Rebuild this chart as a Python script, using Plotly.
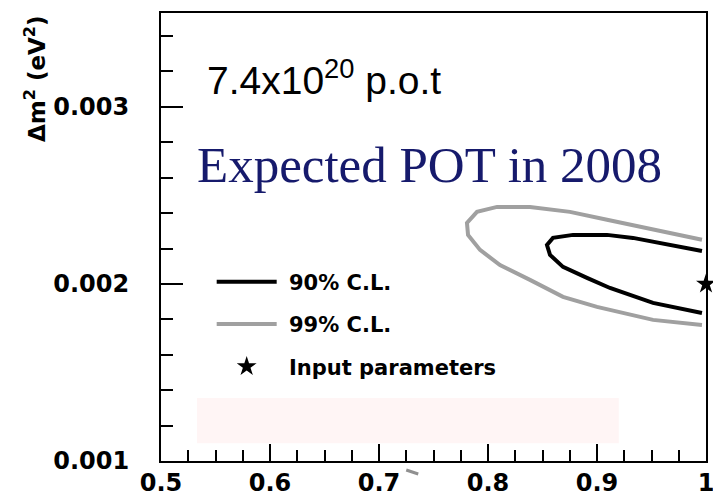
import plotly.graph_objects as go

# 99% C.L. contour (sin^2 2theta, dm^2)
cl99_x = [0.9963, 0.9514, 0.9092, 0.8752, 0.8385, 0.8083, 0.7899, 0.7807, 0.7817,
          0.7927, 0.8110, 0.8385, 0.8688, 0.9000, 0.9239, 0.9514, 0.9963]
cl99_y = [0.002249, 0.002305, 0.002362, 0.002407, 0.002435, 0.002435, 0.002407, 0.002345,
          0.002277, 0.002192, 0.002107, 0.002023, 0.001927, 0.001870, 0.001836, 0.001797, 0.001768]
# 90% C.L. contour
cl90_x = [0.9963, 0.9670, 0.9330, 0.9092, 0.8780, 0.8596, 0.8541, 0.8569, 0.8688,
          0.8908, 0.9119, 0.9303, 0.9514, 0.9963]
cl90_y = [0.002186, 0.002220, 0.002260, 0.002277, 0.002277, 0.002260, 0.002220, 0.002164,
          0.002096, 0.002034, 0.001977, 0.001938, 0.001893, 0.001836]
# input parameters
input_x = [1.0]
input_y = [0.002]

x_ticks = [0.5, 0.6, 0.7, 0.8, 0.9, 1.0]
x_ticklabels = ["0.5", "0.6", "0.7", "0.8", "0.9", "1"]
y_ticks = [0.001, 0.002, 0.003]
y_ticklabels = ["0.001", "0.002", "0.003"]

fig = go.Figure()
fig.add_trace(go.Scatter(x=cl90_x, y=cl90_y, mode="lines", name="\u00a090% C.L.",
                         line=dict(color="black", width=4), legendgroup="a"))
fig.add_trace(go.Scatter(x=cl99_x, y=cl99_y, mode="lines", name="\u00a099% C.L.",
                         line=dict(color="#a0a0a0", width=4), legendgroup="b"))
fig.add_trace(go.Scatter(x=input_x, y=input_y, mode="markers", name="\u00a0Input parameters",
                         marker=dict(symbol="star", size=15, color="black"),
                         cliponaxis=False, legendgroup="c"))

# faint pink box
fig.add_shape(type="rect", xref="x", yref="y", x0=0.533, x1=0.920, y0=0.0011, y1=0.001356,
              fillcolor="#fff5f5", line=dict(width=0), layer="below")
# small gray stroke near the 0.7 label
fig.add_shape(type="line", xref="paper", yref="paper", x0=0.450, x1=0.472, y0=-0.020, y1=-0.029,
              line=dict(color="#909090", width=3))

tickfont = dict(family="DejaVu Sans", size=24, color="black", weight="bold")
fig.update_xaxes(range=[0.5, 1.0], tickvals=x_ticks, ticktext=x_ticklabels,
                 ticks="inside", ticklen=17, tickwidth=2, tickcolor="black",
                 minor=dict(dtick=0.025, ticks="inside", ticklen=11, tickwidth=2, tickcolor="black"),
                 showline=True, linewidth=2, linecolor="black", mirror=True, automargin=False,
                 showgrid=False, zeroline=False, tickfont=tickfont, ticklabelstandoff=-1,
                 ticklabeloverflow="allow")
fig.update_yaxes(range=[0.001, 0.00353], tickvals=y_ticks, ticktext=y_ticklabels,
                 ticks="inside", ticklen=22, tickwidth=2, tickcolor="black",
                 minor=dict(dtick=0.0002, ticks="inside", ticklen=12, tickwidth=2, tickcolor="black"),
                 showline=True, linewidth=2, linecolor="black", mirror=True, automargin=False,
                 showgrid=False, zeroline=False, tickfont=tickfont, ticklabelstandoff=25,
                 ticklabeloverflow="allow")

fig.add_annotation(text="Δm<sup>2</sup> (eV<sup>2</sup>)", textangle=-90, xref="paper", yref="paper",
                   x=-0.232, y=1.0, xanchor="center", yanchor="top", showarrow=False,
                   font=dict(family="DejaVu Sans", size=23, color="black", weight="bold"))
fig.add_annotation(text="7.4x10<sup>20</sup> p.o.t", xref="paper", yref="paper",
                   x=0.08, y=0.855, xanchor="left", yanchor="middle", showarrow=False,
                   font=dict(family="Liberation Sans", size=39, color="black"))
fig.add_annotation(text="Expected POT in 2008", xref="paper", yref="paper",
                   x=0.062, y=0.66, xanchor="left", yanchor="middle", showarrow=False,
                   font=dict(family="Liberation Serif", size=51, color="#161a6c"))

fig.update_layout(
    width=713, height=497,
    margin=dict(l=161, r=7, t=13, b=36),
    plot_bgcolor="white", paper_bgcolor="white",
    showlegend=True,
    legend=dict(x=0.093, y=0.445, xanchor="left", yanchor="top",
                bgcolor="rgba(0,0,0,0)", tracegroupgap=12, itemwidth=60,
                traceorder="grouped",
                font=dict(family="DejaVu Sans", size=21, color="black", weight="bold")),
)

fig.write_html("out.html")
